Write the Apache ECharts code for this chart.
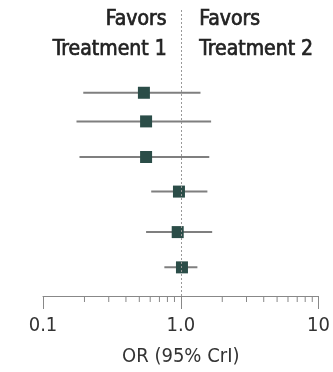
<!doctype html>
<html>
<head>
<meta charset="utf-8">
<title>Forest plot</title>
<style>
  html, body { margin: 0; padding: 0; background: #fff; }
  #main { width: 333px; height: 372px; }
</style>
</head>
<body>
<div id="main"></div>
<script src="https://cdn.jsdelivr.net/npm/echarts@6/dist/echarts.min.js"></script>
<script>
// odds ratios, top row first
var rowPos = [0, 0.82, 1.84, 2.83, 3.99, 5.0];
var orValue = [0.54, 0.56, 0.56, 0.97, 0.95, 1.02];
var ciLow = [0.196, 0.175, 0.184, 0.61, 0.56, 0.76];
var ciHigh = [1.39, 1.66, 1.61, 1.56, 1.69, 1.32];
var minorTicks = [0.2, 0.3, 0.4, 0.5, 0.6, 0.7, 0.8, 0.9, 2, 3, 4, 5, 6, 7, 8, 9];

var font = '"DejaVu Sans Condensed", "DejaVu Sans", sans-serif';
var yMin = -2.37, yMax = 5.82;

var myChart = echarts.init(document.getElementById('main'));

var ciData = [], ptData = [];
for (var i = 0; i < rowPos.length; i++) {
    ciData.push([ciLow[i], ciHigh[i], rowPos[i]]);
    ptData.push([orValue[i], rowPos[i]]);
}

var headStyle = function (txt) {
    return { text: txt, font: '21px ' + font, fill: '#222', stroke: '#222', lineWidth: 0.7 };
};

var option = {
    animation: false,
    textStyle: { fontFamily: font },
    grid: { left: 43, right: 10, top: 10, bottom: 72 },
    graphic: [
        { type: 'text', right: 333 - 167, top: 9, style: headStyle('Favors') },
        { type: 'text', right: 333 - 167, top: 39, style: headStyle('Treatment 1') },
        { type: 'text', left: 199, top: 9, style: headStyle('Favors') },
        { type: 'text', left: 199, top: 39, style: headStyle('Treatment 2') }
    ],
    xAxis: {
        type: 'log',
        logBase: 10,
        min: 0.1,
        max: 10,
        name: 'OR (95% CrI)',
        nameLocation: 'middle',
        nameGap: 51,
        nameTextStyle: { fontSize: 20, color: '#333', fontFamily: font },
        axisLine: { onZero: false, lineStyle: { color: '#888', width: 1 } },
        axisTick: { length: 13, lineStyle: { color: '#888' } },
        axisLabel: {
            margin: 20,
            fontSize: 20,
            color: '#333',
            fontFamily: font,
            showMaxLabel: true,
            formatter: function (v) {
                if (Math.abs(v - 0.1) < 1e-6) return '0.1';
                if (Math.abs(v - 1) < 1e-6) return '1.0';
                if (Math.abs(v - 10) < 1e-6) return '10';
                return '';
            }
        },
        splitLine: { show: false }
    },
    yAxis: {
        type: 'value',
        inverse: true,
        min: yMin,
        max: yMax,
        show: false
    },
    series: [
        {
            // confidence intervals + reference line at OR = 1
            type: 'custom',
            data: ciData,
            z: 2,
            renderItem: function (params, api) {
                var a = api.coord([api.value(0), api.value(2)]);
                var b = api.coord([api.value(1), api.value(2)]);
                return {
                    type: 'line',
                    shape: { x1: a[0], y1: a[1], x2: b[0], y2: b[1] },
                    style: { stroke: '#7f7f7f', lineWidth: 2 }
                };
            },
            markLine: {
                silent: true,
                symbol: 'none',
                label: { show: false },
                lineStyle: { color: '#999', type: [2, 2], width: 1 },
                data: [{ xAxis: 1 }]
            }
        },
        {
            // minor ticks on the log axis
            type: 'custom',
            data: minorTicks,
            clip: false,
            z: 1,
            renderItem: function (params, api) {
                var p = api.coord([api.value(0), yMax]);
                return {
                    type: 'line',
                    shape: { x1: p[0], y1: p[1], x2: p[0], y2: p[1] + 6 },
                    style: { stroke: '#888', lineWidth: 1 }
                };
            }
        },
        {
            type: 'scatter',
            data: ptData,
            symbol: 'rect',
            symbolSize: 12,
            z: 3,
            itemStyle: { color: '#2b4d48', opacity: 1 }
        }
    ]
};

myChart.setOption(option);
</script>
</body>
</html>
